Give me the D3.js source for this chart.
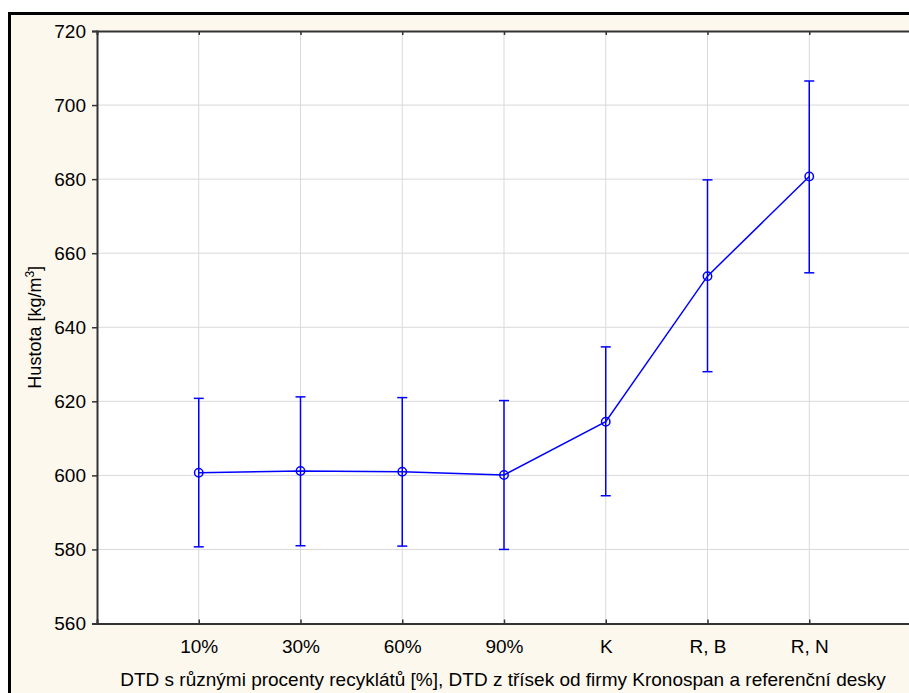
<!DOCTYPE html>
<html>
<head>
<meta charset="utf-8">
<script src="https://cdn.jsdelivr.net/npm/d3@7"></script>
<style>
  html, body { margin: 0; padding: 0; background: #fff; }
  svg { display: block; }
  text { font-family: "Liberation Sans", Arial, sans-serif; fill: #000; }
</style>
</head>
<body>
<svg id="chart"></svg>
<script>
const categories = ["10%", "30%", "60%", "90%", "K", "R, B", "R, N"];
const means = [600.7, 601.2, 601.0, 600.1, 614.5, 653.8, 680.7];
const upper = [620.8, 621.2, 621.0, 620.2, 634.7, 679.8, 706.5];
const lower = [580.7, 581.0, 580.9, 580.0, 594.5, 628.0, 654.7];
const yTicks = [560, 580, 600, 620, 640, 660, 680, 700, 720];

const width = 909, height = 693;
const margin = { top: 31, right: -2, bottom: 69.5, left: 97 };

const svg = d3.select("#chart").attr("width", width).attr("height", height);

// cream background and black frame
svg.append("rect").attr("x", 0).attr("y", 0).attr("width", width).attr("height", height).attr("fill", "#fff");
svg.append("rect")
  .attr("x", 9.5).attr("y", 13.5)
  .attr("width", width + 10).attr("height", height + 10)
  .attr("fill", "#fdf8ee")
  .attr("stroke", "#000").attr("stroke-width", 3);

const plotW = width - margin.left - margin.right;
const plotH = height - margin.top - margin.bottom;

const x = d3.scaleLinear().domain([0, categories.length + 1]).range([0, plotW]);
const y = d3.scaleLinear().domain([560, 720]).range([plotH, 0]);

const g = svg.append("g").attr("transform", `translate(${margin.left},${margin.top})`);

g.append("rect").attr("width", plotW).attr("height", plotH).attr("fill", "#fff");

// grid
g.selectAll("line.hgrid").data(yTicks.slice(1, -1)).enter().append("line")
  .attr("x1", 0).attr("x2", plotW)
  .attr("y1", d => y(d)).attr("y2", d => y(d))
  .attr("stroke", "#d9d9d9").attr("stroke-width", 1);
g.selectAll("line.vgrid").data(categories).enter().append("line")
  .attr("x1", (d, i) => x(i + 1)).attr("x2", (d, i) => x(i + 1))
  .attr("y1", 0).attr("y2", plotH)
  .attr("stroke", "#d9d9d9").attr("stroke-width", 1);

// axes
const yAxis = g.append("g")
  .call(d3.axisLeft(y).tickValues(yTicks).tickSize(5).tickPadding(6).tickFormat(d3.format("d")));
yAxis.select(".domain").attr("stroke", "#333").attr("stroke-width", 2);
yAxis.selectAll(".tick line").attr("stroke", "#333").attr("stroke-width", 1.5);
yAxis.selectAll("text").style("font-size", "19px").attr("fill", "#000");

const xAxis = g.append("g").attr("transform", `translate(0,${plotH})`)
  .call(d3.axisBottom(x).tickValues(d3.range(1, categories.length + 1))
    .tickSize(-4).tickPadding(16).tickFormat(i => categories[i - 1]));
xAxis.select(".domain").attr("stroke", "#333").attr("stroke-width", 2);
xAxis.selectAll(".tick line").attr("stroke", "#333").attr("stroke-width", 1.5);
xAxis.selectAll("text").style("font-size", "19px").attr("fill", "#000");

const topAxis = g.append("g")
  .call(d3.axisTop(x).tickValues(d3.range(1, categories.length + 1)).tickSize(-4).tickFormat(""));
topAxis.select(".domain").attr("stroke", "#333").attr("stroke-width", 2);
topAxis.selectAll(".tick line").attr("stroke", "#333").attr("stroke-width", 1.5);

// axis titles
svg.append("text")
  .attr("transform", `translate(41,${margin.top + plotH / 2}) rotate(-90)`)
  .attr("text-anchor", "middle")
  .style("font-size", "18px")
  .html('Hustota [kg/m<tspan baseline-shift="super" font-size="12px">3</tspan>]');

svg.append("text")
  .attr("x", 503).attr("y", 686)
  .attr("text-anchor", "middle")
  .style("font-size", "19px")
  .text("DTD s různými procenty recyklátů [%], DTD z třísek od firmy Kronospan a referenční desky");

// error bars
const blue = "#0000ff";
const capW = 5;
const bars = g.append("g");
categories.forEach((c, i) => {
  const cx = x(i + 1);
  bars.append("line").attr("x1", cx).attr("x2", cx)
    .attr("y1", y(lower[i])).attr("y2", y(upper[i]))
    .attr("stroke", blue).attr("stroke-width", 1.5);
  bars.append("line").attr("x1", cx - capW).attr("x2", cx + capW)
    .attr("y1", y(upper[i])).attr("y2", y(upper[i]))
    .attr("stroke", blue).attr("stroke-width", 1.5);
  bars.append("line").attr("x1", cx - capW).attr("x2", cx + capW)
    .attr("y1", y(lower[i])).attr("y2", y(lower[i]))
    .attr("stroke", blue).attr("stroke-width", 1.5);
});

// mean line
const line = d3.line().x((d, i) => x(i + 1)).y(d => y(d));
g.append("path").datum(means)
  .attr("d", line)
  .attr("fill", "none")
  .attr("stroke", blue).attr("stroke-width", 1.5);

g.selectAll("circle.pt").data(means).enter().append("circle")
  .attr("cx", (d, i) => x(i + 1)).attr("cy", d => y(d))
  .attr("r", 4.2)
  .attr("fill", "none")
  .attr("stroke", blue).attr("stroke-width", 1.5);
</script>
</body>
</html>
